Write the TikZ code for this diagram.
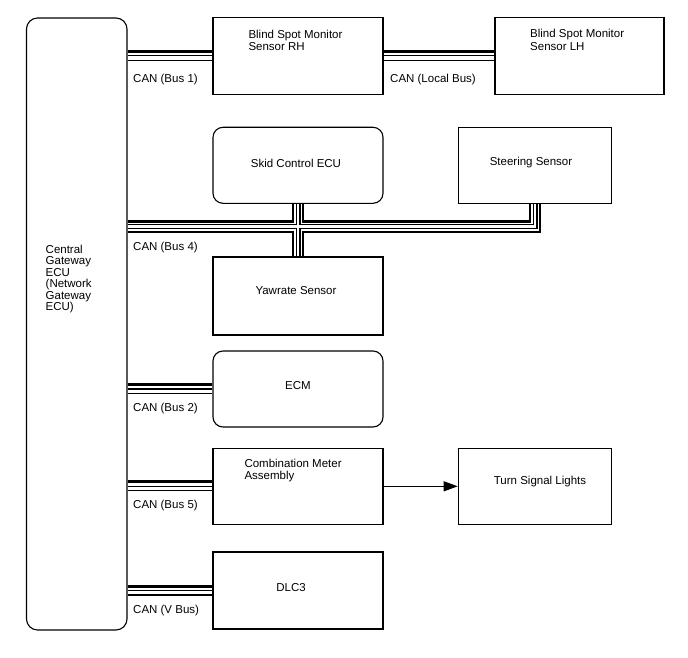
\documentclass[tikz,border=0pt]{standalone}
\usepackage{fontspec}
\setmainfont{Liberation Sans}
\usetikzlibrary{arrows.meta,calc}
\begin{document}
\begin{tikzpicture}[x=1pt,y=-1pt,
  box/.style={draw, line width=1.1pt, inner sep=0pt, minimum width=170pt, minimum height=76pt},
  rbox/.style={box, rounded corners=10pt},
  txt/.style={inner sep=0pt, font=\fontsize{11.5}{12.5}\selectfont},
  lbl/.style={txt, anchor=base west},
  busthick/.style={line width=3pt},
  busthin/.style={line width=1.1pt},
  arr/.style={line width=1.1pt, -{Triangle[length=14pt,width=10pt]}}]
\useasboundingbox (0,0) rectangle (688,658);
\newcommand\canbus[2]{%
  \draw[busthick] ($(#1)+(0,4.5pt)$) -- ($(#2)+(0,4.5pt)$);
  \draw[busthin] (#1) -- (#2);
  \draw[busthin] ($(#1)+(0,-4.5pt)$) -- ($(#2)+(0,-4.5pt)$);}
% boxes
\node[rbox, rounded corners=11pt, minimum width=100.5pt, minimum height=612pt] (gw) at (76.75,324) {};
\node[txt, align=left, anchor=north west, font=\fontsize{11.5}{11.5}\selectfont] (gwtext) at (45.5,244.5)
  {Central\\Gateway\\ECU\\(Network\\Gateway\\ECU)};
\node[box, minimum height=77pt] (bsmr) at (298,55.6) {};
\node[txt, align=left, anchor=base west] (bsmrt) at (248.3,50.8) {Blind Spot Monitor\\Sensor RH};
\node[box, minimum width=169pt, minimum height=77pt] (bsml) at (579.5,55.6) {};
\node[txt, align=left, anchor=base west] (bsmlt) at (530,50.2) {Blind Spot Monitor\\Sensor LH};
\node[rbox] (skid) at (298,165.3) {};
\node[txt] (skidt) at (296,163) {Skid Control ECU};
\node[box, minimum width=153pt] (steer) at (535,165.3) {};
\node[txt] (steert) at (531,163) {Steering Sensor};
\node[box, minimum height=78pt] (yaw) at (298,296) {};
\node[txt] (yawt) at (296,291) {Yawrate Sensor};
\node[rbox] (ecm) at (298,389) {};
\node[txt] (ecmt) at (298,385.5) {ECM};
\node[box] (comb) at (298,486.3) {};
\node[txt, align=left, anchor=base west] (combt) at (244.3,479.5) {Combination Meter\\Assembly};
\node[box, minimum width=153.5pt] (turn) at (535,486.3) {};
\node[txt] (turnt) at (540,481.5) {Turn Signal Lights};
\node[box, minimum height=77pt] (dlc) at (298,590.5) {};
\node[txt] (dlct) at (291,588) {DLC3};
% buses
\canbus{gw.east |- bsmr.west}{bsmr.west}
\canbus{bsmr.east}{bsml.west}
\canbus{gw.east |- ecm.west}{ecm.west}
\canbus{gw.east |- comb.west}{comb.west}
\canbus{gw.east |- dlc.west}{dlc.west}
\coordinate (j) at (skid.south |- 0,226.5);
\coordinate (k) at (steer.south |- j);
\foreach \w/\c in {12.5/black, 8/white, 5/black, 2.6/white}{
  \draw[line width=\w pt, draw=\c] (gw.east |- j) -- (k) -- (steer.south)
    (skid.south) -- (yaw.north);}
% labels
\node[lbl] (l1) at (133,82.5) {CAN (Bus 1)};
\node[lbl] (ll) at (390,82.5) {CAN (Local Bus)};
\node[lbl] (l4) at (133,250.5) {CAN (Bus 4)};
\node[lbl] (l2) at (133,411.5) {CAN (Bus 2)};
\node[lbl] (l5) at (133,508.3) {CAN (Bus 5)};
\node[lbl] (lv) at (133,613) {CAN (V Bus)};
% arrow
\draw[arr] (comb.east) -- (turn.west);
\end{tikzpicture}
\end{document}
